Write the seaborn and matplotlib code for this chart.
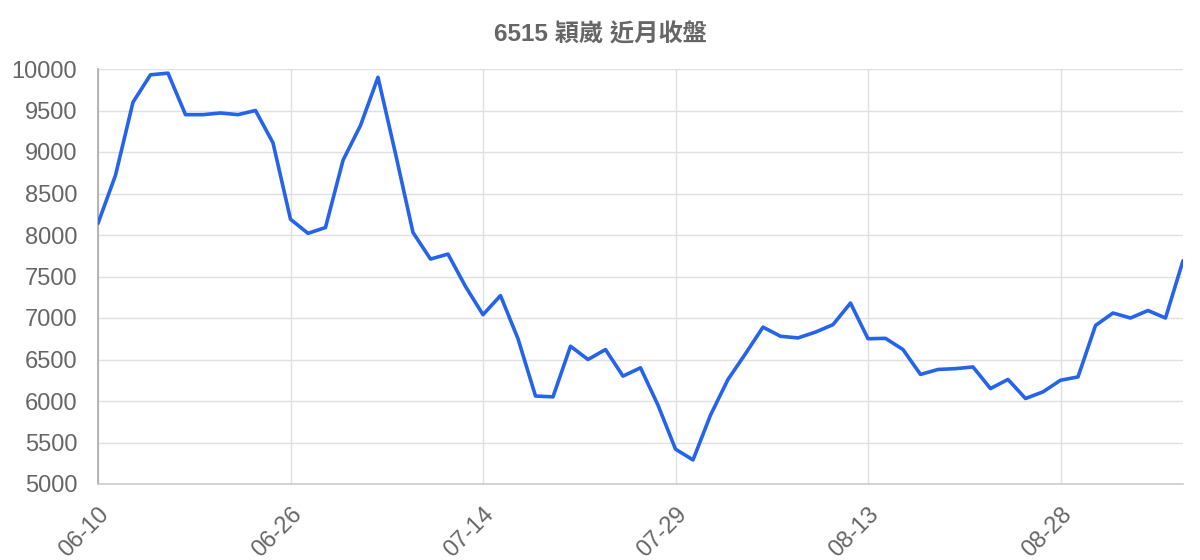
import matplotlib.pyplot as plt
import numpy as np
import pandas as pd
import seaborn as sns

# closing prices, one per session
close = [8140, 8720, 9600, 9930, 9950, 9450, 9450, 9470, 9450, 9500,
         9110, 8190, 8020, 8090, 8900, 9320, 9900, 8980, 8030, 7710,
         7770, 7380, 7040, 7270, 6750, 6060, 6050, 6660, 6500, 6620,
         6300, 6400, 5950, 5420, 5290, 5830, 6260, 6570, 6890, 6780,
         6760, 6830, 6920, 7180, 6750, 6755, 6620, 6320, 6380, 6390,
         6410, 6150, 6260, 6030, 6110, 6250, 6290, 6910, 7060, 7000,
         7090, 7000, 7690]
tick_labels = ['06-10', '06-26', '07-14', '07-29', '08-13', '08-28']
tick_step = 11
title = '6515 穎崴 近月收盤'

df = pd.DataFrame({'idx': np.arange(len(close)), 'close': close})

sns.set_style('white')
plt.rcParams['font.family'] = ['Liberation Sans', 'Noto Sans CJK TC', 'DejaVu Sans']

fig = plt.figure(figsize=(12, 5.6), dpi=100)
ax = fig.add_axes([98 / 1200, 1 - 484 / 560, 1085 / 1200, 415 / 560])

sns.lineplot(data=df, x='idx', y='close', ax=ax, color='#2563eb',
             linewidth=2.6, zorder=3)

ax.set_xlim(0, len(close) - 1)
ax.set_ylim(5000, 10000)
ax.set_yticks(np.arange(5000, 10001, 500))
ax.set_xticks(np.arange(0, len(close), tick_step))
ax.set_xticklabels(tick_labels, rotation=45, ha='right', rotation_mode='anchor')
ax.set_xlabel('')
ax.set_ylabel('')

ax.grid(True, color='#e0e0e0', linewidth=1.0)
ax.tick_params(axis='both', colors='#e0e0e0', labelcolor='#666666',
               labelsize=17, length=13, width=1.0, pad=2)
ax.tick_params(axis='x', pad=1)
ax.get_xticklines()[0].set_color('#aaaaaa')

for s in ['top', 'right']:
    ax.spines[s].set_visible(False)
ax.spines['left'].set_color('#aaaaaa')
ax.spines['bottom'].set_color('#cccccc')
ax.spines['left'].set_linewidth(1.2)
ax.spines['bottom'].set_linewidth(1.2)

fig.text(0.5, 1 - 35 / 560, title, ha='center', va='center',
         fontsize=17.5, fontweight='bold', color='#666666',
         family=['Liberation Sans', 'Noto Sans CJK TC'])

fig.savefig('out.png', dpi=100, facecolor='white')
